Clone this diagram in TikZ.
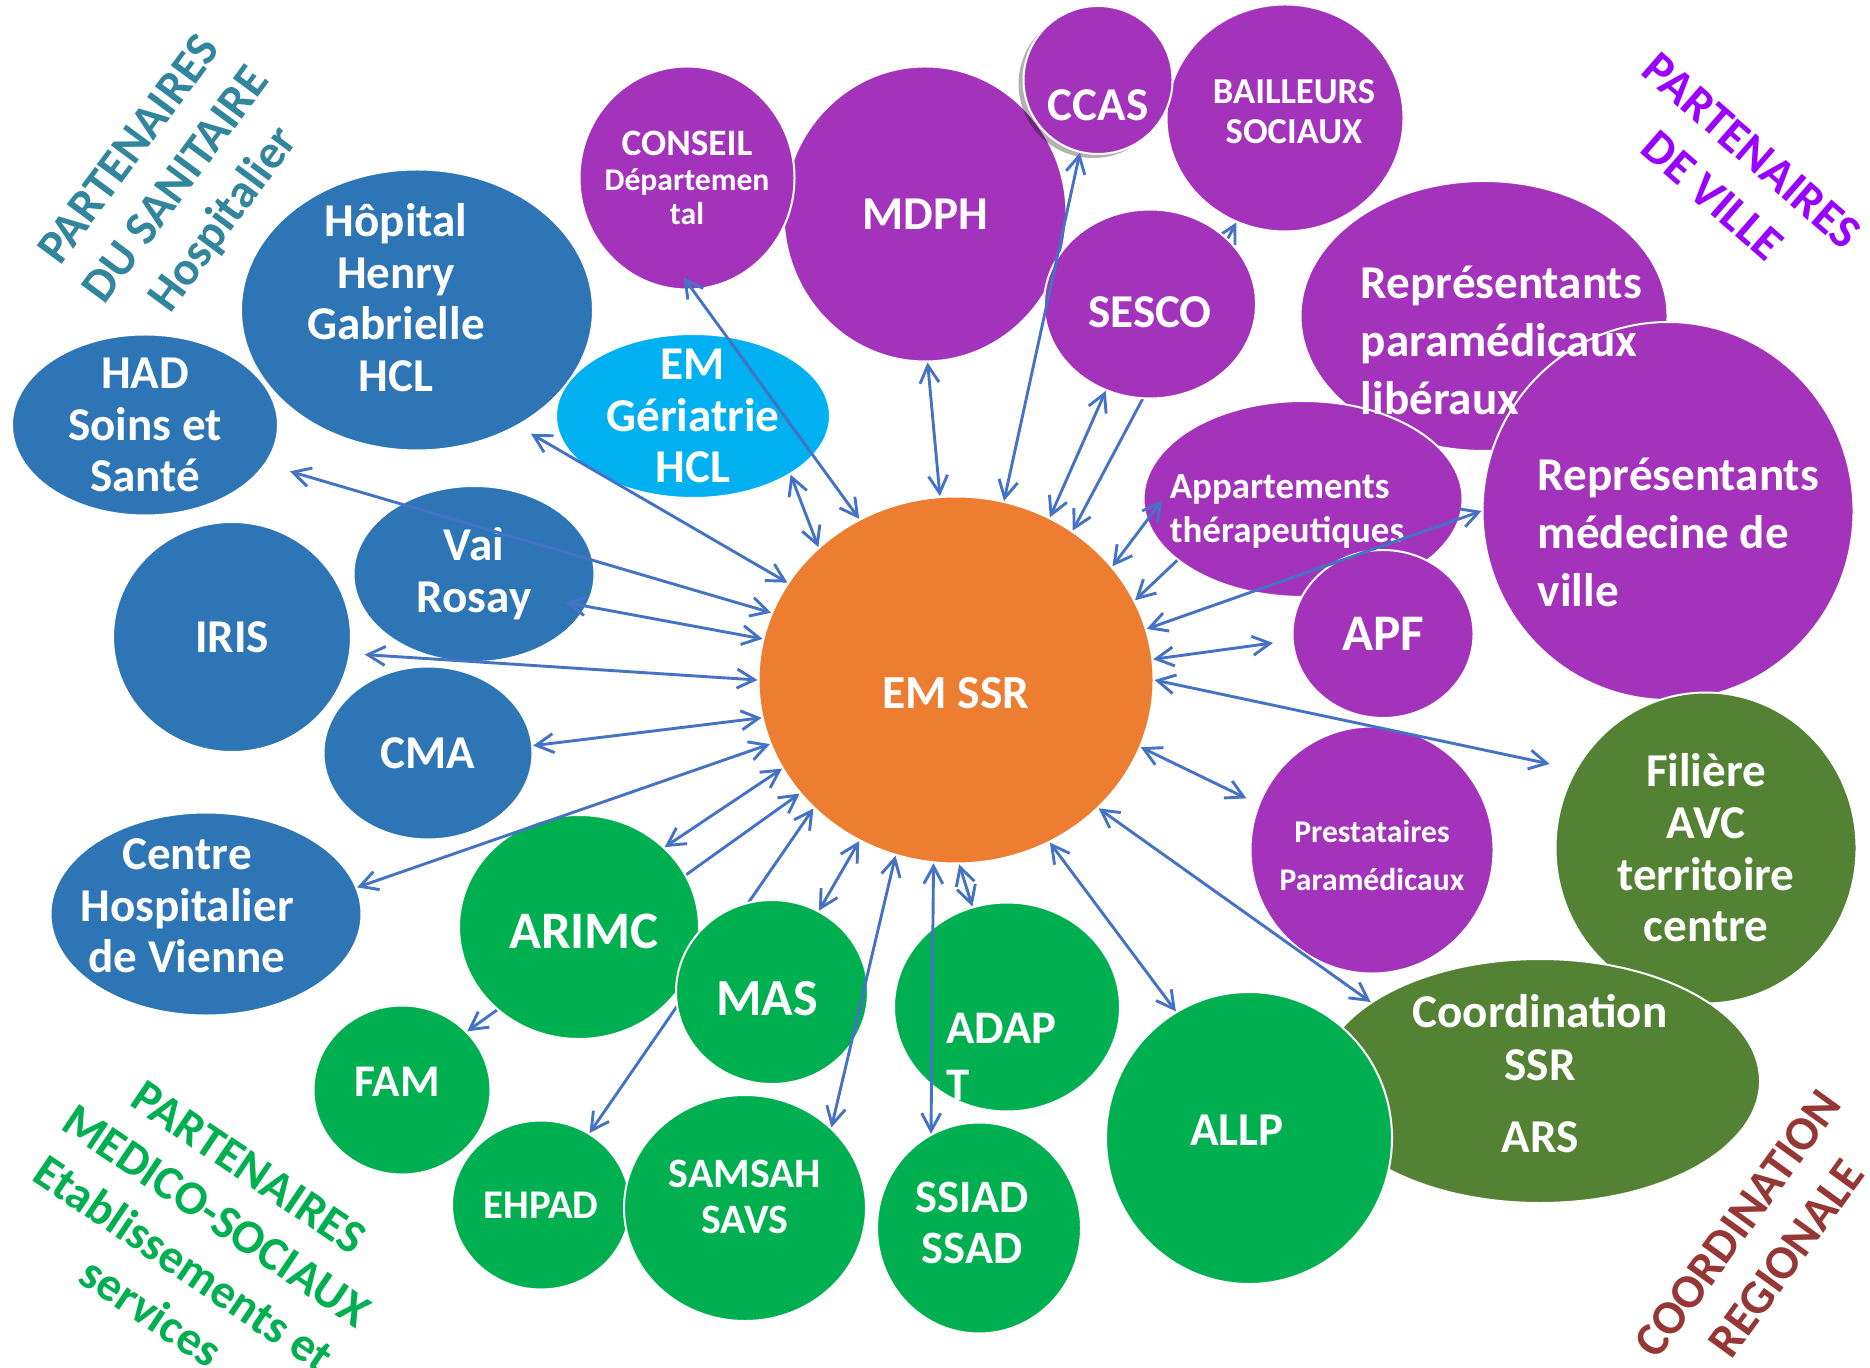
\documentclass[tikz,border=0pt]{standalone}
\usepackage{fontspec}
\setmainfont{Carlito}
\usetikzlibrary{shapes.geometric,arrows.meta,shadows}
\definecolor{cBleu}{HTML}{2E75B6}
\definecolor{cCiel}{HTML}{00B0F0}
\definecolor{cVille}{HTML}{A333BB}
\definecolor{cVert}{HTML}{00B050}
\definecolor{cVertFonce}{HTML}{548235}
\definecolor{cOrange}{HTML}{ED7D31}
\definecolor{cLien}{HTML}{4472C4}
\definecolor{cTeal}{HTML}{31859C}
\definecolor{cViolet}{HTML}{9900FF}
\definecolor{cBrun}{HTML}{953735}
\newcommand{\fsz}[2]{\fontsize{#1}{#2}\selectfont\bfseries}
\pgfdeclarelayer{bg}
\pgfsetlayers{bg,main}

\begin{document}
\begin{tikzpicture}[x=0.1mm, y=-0.1mm,
    bulle/.style={ellipse, fill=#1, draw=white, line width=0.2mm, inner sep=0pt},
    txt/.style={text=white, align=center, inner sep=0pt, font=\fsz{13.4pt}{14.7pt}},
    groupe/.style={text=#1, align=center, inner sep=0pt, font=\fsz{13.6pt}{16.6pt}},
    lien/.style={draw=cLien, line width=0.29mm},
    >={Straight Barb[length=1.75mm,width=1.9mm]}]
  \useasboundingbox (0,0) rectangle (1870,1368);

  % sanitaire
  \node[bulle=cBleu, minimum width=35.2mm, minimum height=28.1mm,
    label={[txt, xshift=-2.1mm, yshift=1.25mm]center:{Hôpital\\Henry\\Gabrielle\\HCL}}] (hopital) at (417,310) {};
  \node[bulle=cBleu, minimum width=26.6mm, minimum height=18.1mm,
    label={[txt]center:{HAD\\Soins et\\Santé}}] (had) at (145,425) {};
  \node[bulle=cBleu, minimum width=23.8mm, minimum height=23mm,
    label={[txt]center:IRIS}] (iris) at (232,637) {};
  \node[bulle=cBleu, minimum width=24.1mm, minimum height=17.6mm,
    label={[txt]center:{Vai\\Rosay}}] (vairosay) at (474,574) {};
  \node[bulle=cBleu, minimum width=20.9mm, minimum height=17.3mm,
    label={[txt]center:CMA}] (cma) at (428,753) {};
  \node[bulle=cBleu, minimum width=31.1mm, minimum height=20.3mm,
    label={[txt, xshift=-1.9mm, yshift=0.8mm]center:{Centre\\Hospitalier\\de Vienne}}] (chv) at (206,914) {};
  \node[bulle=cCiel, minimum width=27.4mm, minimum height=16.4mm,
    label={[txt]center:{EM\\Gériatrie\\HCL}}] (emger) at (693,416) {};

  % ville
  \node[bulle=cVille, minimum width=28.3mm, minimum height=29.5mm,
    label={[txt]center:MDPH}] (mdph) at (925,214) {};
  \node[bulle=cVille, minimum width=21.5mm, minimum height=22.3mm,
    label={[txt, font=\fsz{9pt}{9.9pt}]center:{{\fsz{10.6pt}{9.9pt}CONSEIL}\\Départemen\\tal}}] (conseil) at (687,178) {};
  \node[bulle=cVille, minimum width=23.7mm, minimum height=22.7mm,
    label={[txt, font=\fsz{10.4pt}{11.4pt}, xshift=0.9mm, yshift=0.65mm]center:{BAILLEURS\\SOCIAUX}}] (bailleurs) at (1285,118) {};
  \node[bulle=cVille, minimum width=14.9mm, minimum height=14.8mm,
    drop shadow={shadow xshift=-0.5mm, shadow yshift=-0.4mm, fill=black, opacity=0.3},
    label={[txt, yshift=-2.5mm]center:CCAS}] (ccas) at (1098,80) {};
  \node[bulle=cVille, minimum width=21.2mm, minimum height=18.9mm,
    label={[txt, yshift=-0.8mm]center:SESCO}] (sesco) at (1150,304) {};
  \node[bulle=cVille, minimum width=36.7mm, minimum height=27mm] (para) at (1484,316) {};
  \node[bulle=cVille, minimum width=31.9mm, minimum height=19.6mm,
    label={[txt, align=left, font=\fsz{10.5pt}{12.5pt}, xshift=-1.6mm, yshift=-1.25mm]center:{Appartements\\thérapeutiques}}] (appart) at (1303,499) {};
  \node[bulle=cVille, minimum width=37.1mm, minimum height=37.8mm,
    label={[txt, align=left, font=\fsz{13.4pt}{16.5pt}, xshift=1.05mm, yshift=-2.1mm]center:{Représentants\\médecine de\\ville}}] (medville) at (1668,511) {};
  \node[bulle=cVille, minimum width=18.1mm, minimum height=16.8mm,
    label={[txt, font=\fsz{14.6pt}{16pt}]center:APF}] (apf) at (1383,634) {};
  \node[bulle=cVille, minimum width=24.3mm, minimum height=24.7mm,
    label={[txt, font=\fsz{9pt}{13.7pt}, yshift=-0.55mm]center:{Prestataires\\Paramédicaux}}] (presta) at (1372,850) {};

  % coordination
  \node[bulle=cVertFonce, minimum width=30.1mm, minimum height=31.1mm,
    label={[txt]center:{Filière\\AVC\\territoire\\centre}}] (filiere) at (1706,848) {};
  \node[bulle=cVertFonce, minimum width=44mm, minimum height=24.4mm,
    label={[txt, font=\fsz{13.4pt}{15.1pt}, yshift=0.7mm]center:{Coordination\\SSR\\[1.9mm]ARS}}] (coord) at (1540,1081) {};

  % medico-social
  \node[bulle=cVert, minimum width=28.6mm, minimum height=29.2mm,
    label={[txt, xshift=-1.2mm, yshift=0.8mm]center:ALLP}] (allp) at (1249,1138) {};
  \node[bulle=cVert, minimum width=24mm, minimum height=22.4mm,
    label={[txt, font=\fsz{15pt}{16pt}, xshift=0.5mm, yshift=-0.45mm]center:ARIMC}] (arimc) at (579,927) {};
  \node[bulle=cVert, minimum width=19.2mm, minimum height=18.4mm,
    label={[txt, font=\fsz{14.8pt}{16pt}, xshift=-0.5mm, yshift=-0.65mm]center:MAS}] (mas) at (772,992) {};
  \node[bulle=cVert, minimum width=17.7mm, minimum height=16.9mm,
    label={[txt, font=\fsz{12.9pt}{14pt}, xshift=-0.5mm, yshift=0.85mm]center:FAM}] (fam) at (402,1090) {};
  \node[bulle=cVert, minimum width=17.8mm, minimum height=16.9mm,
    label={[txt, font=\fsz{11.6pt}{13pt}]center:EHPAD}] (ehpad) at (541,1205) {};
  \node[bulle=cVert, minimum width=24.2mm, minimum height=22.6mm,
    label={[txt, font=\fsz{11.9pt}{13.1pt}, yshift=1.1mm]center:{SAMSAH\\SAVS}}] (samsah) at (745,1208) {};
  \node[bulle=cVert, minimum width=22.6mm, minimum height=20.9mm,
    label={[txt, align=left, font=\fsz{13.3pt}{16.2pt}, xshift=-0.55mm, yshift=-5mm]center:{ADAP\\T}}] (adapt) at (1007,1007) {};
  \node[bulle=cVert, minimum width=20.4mm, minimum height=21.1mm,
    label={[txt, font=\fsz{13.2pt}{14.5pt}, xshift=-0.7mm, yshift=0.5mm]center:{SSIAD\\SSAD}}] (ssiad) at (979,1228) {};

  % equipe mobile
  \node[bulle=cOrange, minimum width=39.5mm, minimum height=36.7mm,
    label={[txt, font=\fsz{13.5pt}{15pt}, yshift=-1.35mm]center:EM SSR}] (emssr) at (956,680) {};

  \node[txt, align=left, font=\fsz{13.4pt}{16.4pt}] (paratxt)
    at ([xshift=1.75mm, yshift=-2.45mm]para.center) {Représentants\\paramédicaux\\libéraux};

  % titres des groupes
  \node[groupe=cTeal, rotate=53.5] (gsanit) at (178,186) {PARTENAIRES\\DU SANITAIRE\\Hospitalier};
  \node[groupe=cViolet, rotate=-41, font=\fsz{13.6pt}{17pt}] (gville) at (1732,173) {PARTENAIRES\\DE VILLE};
  \node[groupe=cVert, rotate=-34] (gmedico) at (200,1240) {PARTENAIRES\\MEDICO-SOCIAUX\\Etablissements et\\services};
  \node[groupe=cBrun, rotate=54, font=\fsz{13.6pt}{17pt}] (gregion) at (1762,1241) {COORDINATION\\REGIONALE};

  % liens
  \foreach \a/\n/\b/\s in {121.2/conseil/-87.6/-1.6mm, 136.6/emger/-31.6/0mm, 95.8/mdph/-89.6/0mm,
      75.1/ccas/-104.8/0mm, 60.8/sesco/-117.4/0mm, 36.6/appart/-172.1/-2.6mm,
      15/medville/180.3/0mm, 6.7/apf/184.2/1.9mm, -0.1/filiere/149.3/2.6mm,
      -20.2/presta/158.2/1.3mm, -42.8/coord/155.9/0mm, -60.8/allp/120.1/0mm,
      -89.7/adapt/109.1/0mm, -97.9/ssiad/117.5/0mm, -109.1/samsah/43/0mm,
      -121/mas/60.1/0mm, -153.8/arimc/43.7/0mm, 199.7/chv/10.9/0mm,
      191.6/cma/4.3/0mm, 180.1/iris/-8.6/1.4mm, 168.6/vairosay/-16.1/-2.2mm,
      160.9/had/-18.6/2.5mm, 150.3/hopital/-49.3/1.5mm}
    \draw[lien, <->, shorten >=\s] (emssr.\a) -- (\n.\b);
  \draw[lien, ->] (appart.206.6) -- (emssr.24.4);

  \begin{pgfonlayer}{bg}
    \fill[white] (0,0) rectangle (1870,1368);
    \draw[lien, <->] (emssr.52.6) -- (bailleurs.-115.1);
    \draw[lien, <->] (emssr.-138) -- (ehpad.56.5);
    \draw[lien, <->] (emssr.-144.6) -- (fam.42.8);
  \end{pgfonlayer}
\end{tikzpicture}
\end{document}
